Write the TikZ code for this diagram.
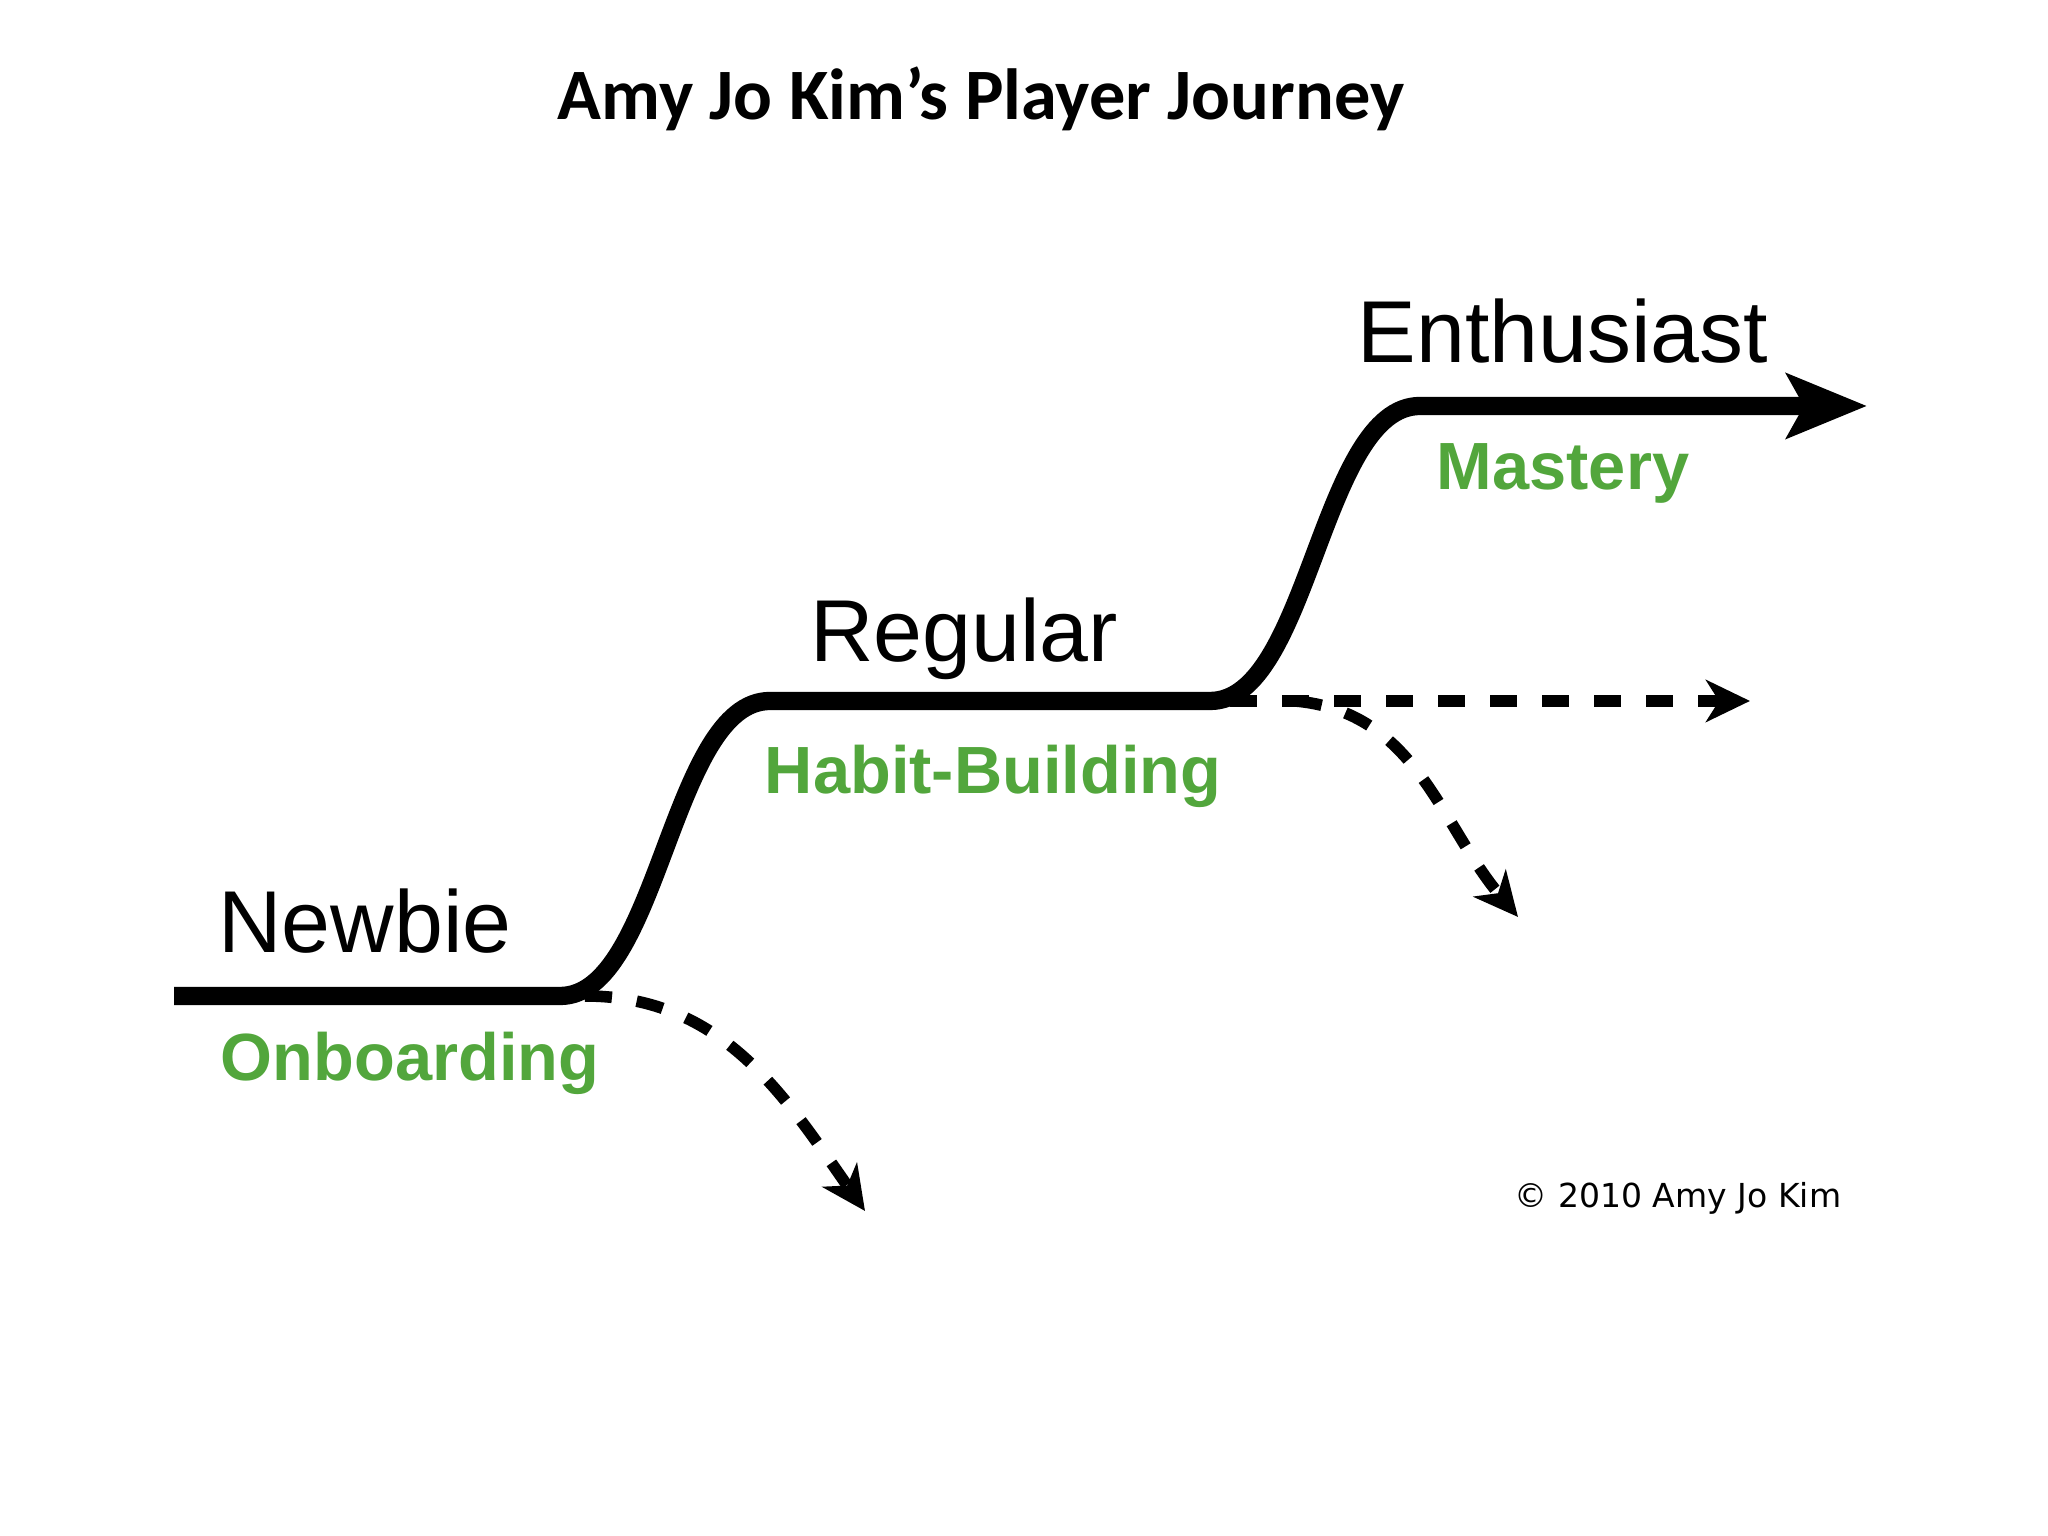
\documentclass[tikz,border=0pt]{standalone}
\usepackage{fontspec}
\setmainfont{Liberation Sans}
\newfontfamily\titlefont{Carlito}
\newfontfamily\notefont{DejaVu Sans}
\usetikzlibrary{positioning, arrows.meta, calc}
\definecolor{phasegreen}{RGB}{82,166,60}

\begin{document}
\begin{tikzpicture}[
  >={Stealth[length=4.4mm, width=4.2mm, inset=1.3mm]},
  stage/.style={font=\fontsize{25}{30}\selectfont, anchor=base, inner sep=0pt},
  phase/.style={font=\bfseries\fontsize{19}{23}\selectfont, text=phasegreen,
    anchor=base, inner sep=0pt},
  journey/.style={line width=5.2pt,
    -{Stealth[length=8mm, width=6.4mm, inset=1.7mm]}},
  dropout/.style={->, line width=3.3pt, dash pattern=on 2.7mm off 2.5mm},
  rise/.style={out=0, in=180, looseness=0.7}
]
\useasboundingbox (0,0) rectangle (20.48,15.36);

% Title
\node[anchor=base, inner sep=0pt,
  font=\titlefont\bfseries\fontsize{20.6}{25}\selectfont]
  (title) at (9.81,14.16) {Amy Jo Kim’s Player Journey};

% Points along the journey line
\coordinate (start) at (1.74,5.40);
\coordinate (lift1) at (5.60,5.40);
\coordinate (land1) at (7.70,8.35);
\coordinate (lift2) at (12.10,8.35);
\coordinate (land2) at (14.20,11.30);
\coordinate (goal)  at (18.67,11.30);

% Where players branch off
\coordinate (fork1) at (5.85,5.40);
\coordinate (quit1) at (8.65,3.25);
\coordinate (fork2) at (12.30,8.35);
\coordinate (stay)  at (17.50,8.35);
\coordinate (fork3) at (12.95,8.35);
\coordinate (quit2) at (15.18,6.19);

% Stage names
\node[stage] (newbie)     at (3.65,5.83)   {Newbie};
\node[stage] (regular)    at (9.64,8.74)   {Regular};
\node[stage] (enthusiast) at (15.63,11.73) {Enthusiast};

% Phase names
\node[phase] (onboarding) at (4.10,4.55)  {Onboarding};
\node[phase] (habit)      at (9.93,7.42)  {Habit-Building};
\node[phase] (mastery)    at (15.63,10.46) {Mastery};

% Main journey
\draw[journey] (start) -- (lift1) to[rise] (land1) -- (lift2)
  to[rise] (land2) -- (goal);

% Drop-outs and plateau
\draw[dropout] (fork1) to[out=0, in=125] (quit1);
\draw[dropout] (fork2) -- (stay);
\draw[dropout] (fork3) to[out=-5, in=130] (quit2);

% Credit
\node[anchor=base, inner sep=0pt, font=\notefont\fontsize{9.4}{11}\selectfont]
  (credit) at (16.78,3.28) {© 2010 Amy Jo Kim};
\end{tikzpicture}
\end{document}
